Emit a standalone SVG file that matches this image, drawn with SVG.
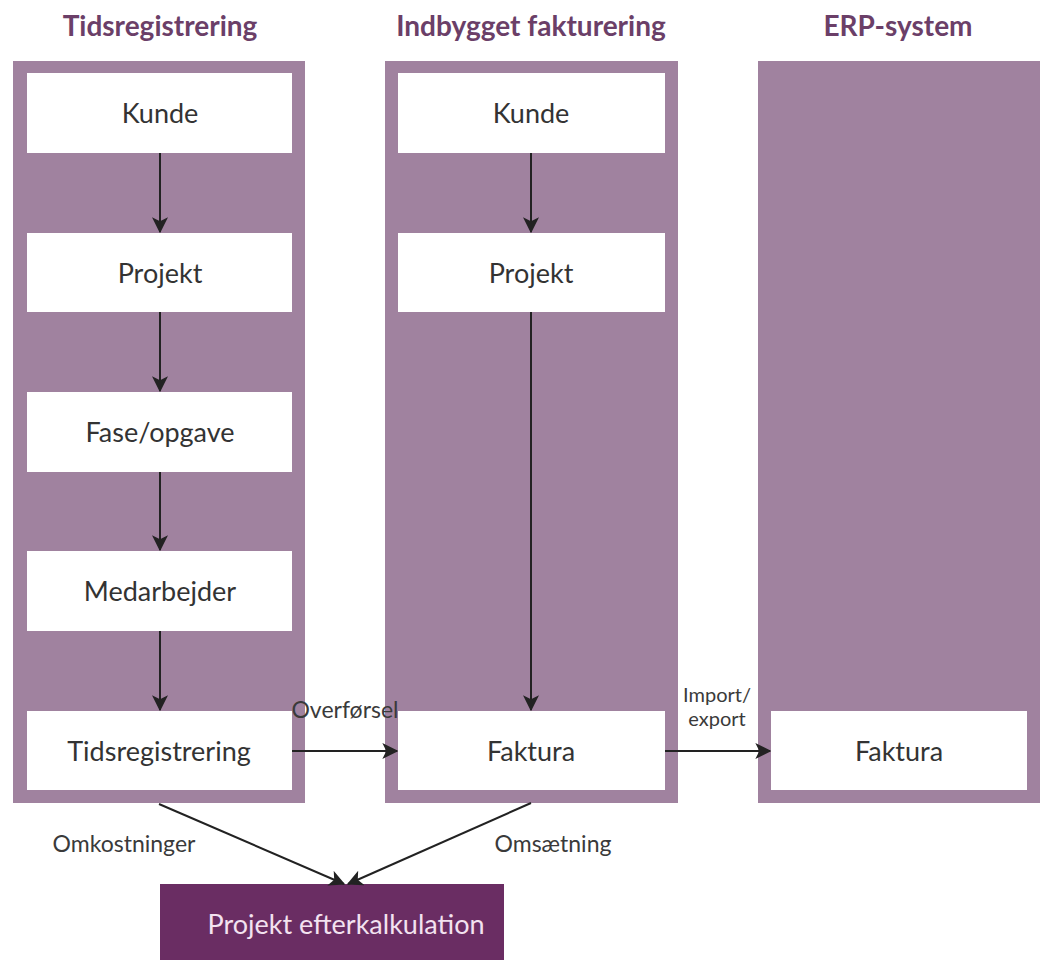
<svg xmlns="http://www.w3.org/2000/svg" width="1052" height="960" viewBox="0 0 1052 960">
<defs>
<style>
.panel{fill:#a0829f}
.box{fill:#ffffff}
.t{font-family:Lato,"Open Sans",sans-serif;font-size:27px;fill:#333333;text-anchor:middle}
.h{font-family:Lato,"Open Sans",sans-serif;font-size:28px;font-weight:bold;fill:#6b3f68;text-anchor:middle}
.l{font-family:Lato,"Open Sans",sans-serif;font-size:23px;fill:#3a3a3a;text-anchor:middle}
.c{stroke:#222222;stroke-width:2;fill:none;marker-end:url(#ah)}
</style>
<marker id="ah" viewBox="0 0 12 12" refX="11" refY="6" markerWidth="8" markerHeight="8" markerUnits="strokeWidth" orient="auto">
<path d="M0,0 L12,6 L0,12 L3,6 Z" fill="#222222"/>
</marker>
</defs>
<rect width="1052" height="960" fill="#ffffff"/>
<g id="headers">
<text class="h" x="160" y="36">Tidsregistrering</text>
<text class="h" x="531" y="36">Indbygget fakturering</text>
<text class="h" x="898" y="36">ERP-system</text>
</g>
<g id="panel-tids"><rect class="panel" x="13" y="61" width="292" height="742"/></g>
<g id="panel-faktura"><rect class="panel" x="385" y="61" width="293" height="742"/></g>
<g id="panel-erp"><rect class="panel" x="758" y="61" width="282" height="742"/></g>
<g id="t-kunde"><rect class="box" x="27" y="73" width="265" height="80"/><text class="t" x="160" y="123">Kunde</text></g>
<g id="t-projekt"><rect class="box" x="27" y="233" width="265" height="79"/><text class="t" x="160" y="283">Projekt</text></g>
<g id="t-fase"><rect class="box" x="27" y="392" width="265" height="80"/><text class="t" x="160" y="442">Fase/opgave</text></g>
<g id="t-medarbejder"><rect class="box" x="27" y="551" width="265" height="80"/><text class="t" x="160" y="601">Medarbejder</text></g>
<g id="t-tidsreg"><rect class="box" x="27" y="711" width="265" height="79"/><text class="t" x="159" y="761">Tidsregistrering</text></g>
<g id="f-kunde"><rect class="box" x="398" y="73" width="267" height="80"/><text class="t" x="531" y="123">Kunde</text></g>
<g id="f-projekt"><rect class="box" x="398" y="233" width="267" height="79"/><text class="t" x="531" y="283">Projekt</text></g>
<g id="f-faktura"><rect class="box" x="398" y="711" width="267" height="79"/><text class="t" x="531" y="761">Faktura</text></g>
<g id="e-faktura"><rect class="box" x="771" y="711" width="256" height="79"/><text class="t" x="899" y="761">Faktura</text></g>
<g id="efterkalkulation"><rect x="160" y="884" width="344" height="76" fill="#6a2d63"/><text x="346" y="934" style="font-family:Lato,'Open Sans',sans-serif;font-size:27px;fill:#f3e2f0;text-anchor:middle">Projekt efterkalkulation</text></g>
<g id="connectors">
<line class="c" x1="160" y1="153" x2="160" y2="232"/>
<line class="c" x1="160" y1="312" x2="160" y2="391"/>
<line class="c" x1="160" y1="472" x2="160" y2="550"/>
<line class="c" x1="160" y1="631" x2="160" y2="710"/>
<line class="c" x1="531" y1="153" x2="531" y2="232"/>
<line class="c" x1="531" y1="312" x2="531" y2="710"/>
<line class="c" x1="292" y1="751" x2="397" y2="751"/>
<line class="c" x1="665" y1="751" x2="770" y2="751"/>
<line class="c" x1="159" y1="804" x2="344" y2="884"/>
<line class="c" x1="531" y1="803" x2="348" y2="884"/>
</g>
<g id="labels">
<text class="l" x="345" y="718">Overførsel</text>
<text class="l" x="717" y="702" style="font-size:20px">Import/</text>
<text class="l" x="717" y="726" style="font-size:20px">export</text>
<text class="l" x="124" y="852">Omkostninger</text>
<text class="l" x="553" y="852">Omsætning</text>
</g>
</svg>
